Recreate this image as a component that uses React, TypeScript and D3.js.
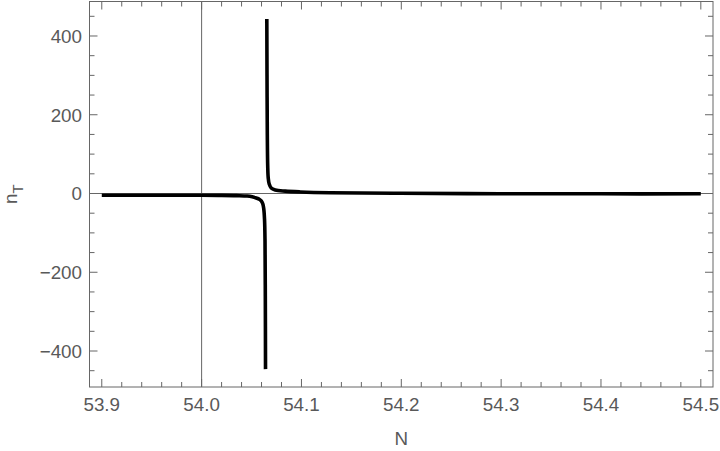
import * as d3 from "d3";
import React from "react";

const WIDTH = 720;
const HEIGHT = 451;

// frame edges in px
const FRAME = { left: 89.5, right: 713, top: 1.5, bottom: 387 };

const X_DOMAIN = [53.8877, 54.5122];
const Y_DOMAIN = [-491.4, 487.6];

const X_TICKS = [53.9, 54.0, 54.1, 54.2, 54.3, 54.4, 54.5];
const X_TICK_LABELS = ["53.9", "54.0", "54.1", "54.2", "54.3", "54.4", "54.5"];
const Y_TICKS = [-400, -200, 0, 200, 400];
const Y_TICK_LABELS = ["\u2212400", "\u2212200", "0", "200", "400"];

// left branch (below the pole)
const LEFT_N = [53.9, 53.95, 54.0, 54.02, 54.035, 54.0457, 54.0507, 54.0547, 54.0577, 54.0597, 54.0612, 54.0622, 54.063, 54.0635, 54.0638, 54.064];
const LEFT_T = [-4.5, -4.6, -4.5, -4.8, -5.4, -6.4, -8.5, -11.5, -14.5, -19, -26, -38, -65, -120, -260, -446];

// right branch (above the pole)
const RIGHT_N = [54.0653, 54.0655, 54.0658, 54.0662, 54.0667, 54.0677, 54.0697, 54.0737, 54.0837, 54.0987, 54.1287, 54.1987, 54.2987, 54.4, 54.5];
const RIGHT_T = [443, 300, 150, 70, 40, 24, 14, 9, 6, 4, 2, 0.5, -0.5, -0.8, -0.8];

const GRAY = "#666666";
const TEXT = "#595959";
const FONT = "'Liberation Sans', Arial, sans-serif";

export default function App() {
  const x = d3.scaleLinear().domain(X_DOMAIN).range([FRAME.left, FRAME.right]);
  const y = d3.scaleLinear().domain(Y_DOMAIN).range([FRAME.bottom, FRAME.top]);

  const line = d3
    .line<[number, number]>()
    .x((d) => x(d[0]))
    .y((d) => y(d[1]))
    .curve(d3.curveCatmullRom.alpha(0.5));

  const leftPath = line(LEFT_N.map((n, i) => [n, LEFT_T[i]]));
  const rightPath = line(RIGHT_N.map((n, i) => [n, RIGHT_T[i]]));

  const xMinor = d3.range(53.88, 54.52, 0.02).filter((v) => v >= X_DOMAIN[0] && v <= X_DOMAIN[1]);
  const yMinor = d3.range(-450, 451, 50);

  const MAJOR = 8;
  const MINOR = 5;

  return (
    <svg
      width={WIDTH}
      height={HEIGHT}
      style={{ position: "absolute", left: 0, top: 0, background: "#fff" }}
    >
      <defs>
        <clipPath id="plot-clip">
          <rect
            x={FRAME.left}
            y={FRAME.top}
            width={FRAME.right - FRAME.left}
            height={FRAME.bottom - FRAME.top}
          />
        </clipPath>
      </defs>

      {/* axes through the origin */}
      <line x1={x(54.0)} x2={x(54.0)} y1={FRAME.top} y2={FRAME.bottom} stroke={GRAY} strokeWidth={1} />
      <line x1={FRAME.left} x2={FRAME.right} y1={y(0)} y2={y(0)} stroke={GRAY} strokeWidth={1} />

      {/* ticks */}
      <g stroke={GRAY} strokeWidth={1}>
        {xMinor.map((v, i) => {
          const major = X_TICKS.some((t) => Math.abs(t - v) < 1e-6);
          const len = major ? MAJOR : MINOR;
          return (
            <g key={"xt" + i}>
              <line x1={x(v)} x2={x(v)} y1={FRAME.bottom} y2={FRAME.bottom - len} />
              <line x1={x(v)} x2={x(v)} y1={FRAME.top} y2={FRAME.top + len} />
            </g>
          );
        })}
        {yMinor.map((v, i) => {
          const major = Y_TICKS.includes(v);
          const len = major ? MAJOR : MINOR;
          return (
            <g key={"yt" + i}>
              <line x1={FRAME.left} x2={FRAME.left + len} y1={y(v)} y2={y(v)} />
              <line x1={FRAME.right} x2={FRAME.right - len} y1={y(v)} y2={y(v)} />
            </g>
          );
        })}
      </g>

      {/* curve */}
      <g clipPath="url(#plot-clip)" fill="none" stroke="#000" strokeWidth={3.6} strokeLinejoin="round">
        <path d={leftPath ?? ""} />
        <path d={rightPath ?? ""} />
      </g>

      {/* frame */}
      <rect
        x={FRAME.left}
        y={FRAME.top}
        width={FRAME.right - FRAME.left}
        height={FRAME.bottom - FRAME.top}
        fill="none"
        stroke={GRAY}
        strokeWidth={1}
      />

      {/* tick labels */}
      <g fill={TEXT} fontFamily={FONT} fontSize={18.8}>
        {X_TICKS.map((v, i) => (
          <text key={"xl" + i} x={x(v)} y={FRAME.bottom + 23.5} textAnchor="middle">
            {X_TICK_LABELS[i]}
          </text>
        ))}
        {Y_TICKS.map((v, i) => (
          <text key={"yl" + i} x={FRAME.left - 7.5} y={y(v) + 6.8} textAnchor="end">
            {Y_TICK_LABELS[i]}
          </text>
        ))}
      </g>

      {/* axis titles */}
      <text
        x={(FRAME.left + FRAME.right) / 2}
        y={445}
        textAnchor="middle"
        fill={TEXT}
        fontFamily={FONT}
        fontSize={18.8}
      >
        N
      </text>
      <text
        transform={`translate(16.7, ${(FRAME.top + FRAME.bottom) / 2}) rotate(-90)`}
        textAnchor="middle"
        fill={TEXT}
        fontFamily={FONT}
        fontSize={18.8}
      >
        n
        <tspan fontSize={15} dy={6.5}>T</tspan>
      </text>
    </svg>
  );
}
